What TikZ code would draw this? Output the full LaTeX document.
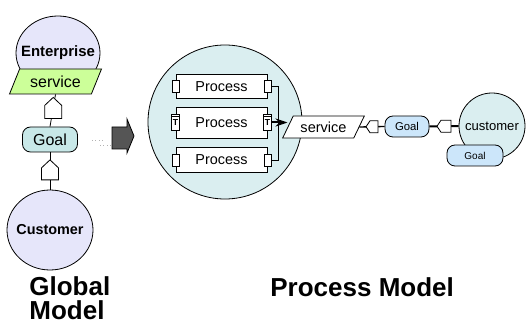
\documentclass[tikz,border=0pt]{standalone}
\usepackage{fontspec}
\setmainfont{Liberation Sans}
\usetikzlibrary{calc, shapes.geometric, arrows.meta}

\definecolor{entfill}{RGB}{230,230,250}
\definecolor{svcgreen}{RGB}{204,255,153}
\definecolor{goalteal}{RGB}{200,232,232}
\definecolor{procfill}{RGB}{218,238,240}
\definecolor{goalblue}{RGB}{204,230,250}
\definecolor{blockgrey}{RGB}{85,85,85}

\tikzset{
        actor/.style={draw, ellipse, fill=entfill, inner sep=0pt},
        svcbox/.style={draw, trapezium, trapezium stretches=true, inner sep=1pt},
        goalbox/.style={draw, rectangle, rounded corners=6pt, inner sep=0pt},
        procbox/.style={draw, fill=white, minimum width=68.25pt, inner sep=0pt, font=\fontsize{10.8}{12}\selectfont},
        port/.style={draw, fill=white, minimum width=5.25pt, minimum height=9pt, inner sep=0pt},
        tport/.style={draw, fill=white, minimum width=6pt, minimum height=12pt, inner sep=0pt, font=\fontsize{6.5}{7}\selectfont\bfseries},
        house/.style={draw, fill=white, line width=0.6pt}
}

\begin{document}
\begin{tikzpicture}[x=0.75pt, y=-0.75pt, line width=0.6pt]
        \useasboundingbox (0,0) rectangle (526,324);

        \node[actor, minimum width=63pt, minimum height=55.5pt, font=\fontsize{11.2}{12}\selectfont\bfseries] (ent) at (58,53) {\makebox[0pt]{Enterprise}};
        \node[svcbox, fill=svcgreen, trapezium left angle=62.5, trapezium right angle=117.5, minimum width=69pt, minimum height=18.75pt, font=\fontsize{12}{13}\selectfont] (entsvc) at (55.5,81.5) {service};
        \node[goalbox, fill=goalteal, minimum width=41.25pt, minimum height=18.75pt, font=\fontsize{12}{13}\selectfont] (glgoal) at (50,139.5) {Goal};
        \node[actor, minimum width=64.5pt, minimum height=60pt, font=\fontsize{10.8}{12}\selectfont\bfseries] (glcust) at (50,230) {\makebox[0pt]{Customer}};

        \draw (entsvc.south) -- (glgoal.north);
        \draw (glgoal.south) -- (glcust.north);
        \coordinate (h1) at ($(entsvc.south)!0.42!(glgoal.north)$);
        \coordinate (h2) at ($(glgoal.south)!0.47!(glcust.north)$);
        \draw[house] ($(h1)+(-8.5,10.5)$) -- ++(0,-13) -- ++(8.5,-8) -- ++(8.5,8) -- ++(0,13) -- cycle;
        \draw[house] ($(h2)+(-8.5,10)$) -- ++(0,-12) -- ++(8.5,-8) -- ++(8.5,8) -- ++(0,12) -- cycle;

        \draw[gray!60, dotted] (92,140) -- (105,140);
        \draw[gray!60, dotted] (100,145) -- (120,145);
        \draw[fill=blockgrey] (112,127) -- (127,127) -- (127,119) -- (134,136) -- (127,153) -- (127,149) -- (112,149) -- cycle;

        \node[draw, circle, fill=procfill, minimum size=115.5pt, inner sep=0pt] (pcirc) at (225,122) {};
        \node[procbox, minimum height=18pt] (proc1) at (221.5,86.5) {Process};
        \node[procbox, minimum height=23.25pt] (proc2) at (221.5,122.5) {Process};
        \node[procbox, minimum height=18.75pt] (proc3) at (221.5,160) {Process};
        \node[port] (p1w) at (proc1.west) {};
        \node[port] (p1e) at (proc1.east) {};
        \node[tport] (p2w) at (proc2.west) {\raisebox{-1pt}{T}};
        \node[tport] (p2e) at (proc2.east) {\raisebox{-1pt}{T}};
        \node[port] (p3w) at (proc3.west) {};
        \node[port] (p3e) at (proc3.east) {};
        \draw ($(p2w.north west)+(0,2.5)$) -- ($(p2w.north east)+(0,2.5)$);
        \draw ($(p2e.north west)+(0,2.5)$) -- ($(p2e.north east)+(0,2.5)$);
        \draw (p1e.east) -- ++(7,0) |- (p3e.east);

        \node[svcbox, fill=white, trapezium left angle=57.5, trapezium right angle=122.5, minimum width=61.5pt, minimum height=16.5pt, font=\fontsize{10.9}{12}\selectfont] (psvc) at (323.5,127) {service};
        \draw[line width=1.5pt, -{Stealth[length=9pt, width=6pt]}] (p2e.east) -- (p2e.east -| psvc.west);

        \node[goalbox, fill=goalblue, minimum width=33pt, minimum height=15.75pt, font=\fontsize{8.5}{9}\selectfont] (pgoal) at (407,126.5) {Goal};
        \node[draw, circle, fill=procfill, minimum size=49.5pt, inner sep=0pt, font=\fontsize{9.8}{11}\selectfont] (pcust) at (492,126) {customer};
        \node[goalbox, fill=goalblue, minimum width=42pt, minimum height=15.75pt, font=\fontsize{7.5}{8}\selectfont] (pcgoal) at (475,155.5) {Goal};

        \draw[line width=1pt] (psvc.east) -- (pgoal.west);
        \draw[line width=1.5pt] (pgoal.east) -- (pcust.west);
        \coordinate (h3) at ($(psvc.east)!0.5!(pgoal.west)$);
        \coordinate (h4) at ($(pgoal.east)!0.5!(pcust.west)$);
        \draw[house] ($(h3)+(6,-6)$) -- ++(-8,0) -- ++(-4,6) -- ++(4,6) -- ++(8,0) -- cycle;
        \draw[house] ($(h4)+(7,-6)$) -- ++(-10,0) -- ++(-4,6) -- ++(4,6) -- ++(10,0) -- cycle;

        \node[anchor=base west, inner sep=0pt, align=left, font=\fontsize{19.5}{18}\selectfont\bfseries] (glabel) at (29,320) {Global\\Model};
        \node[anchor=base west, inner sep=0pt, font=\fontsize{19.5}{18}\selectfont\bfseries] (plabel) at (270,297) {Process Model};
\end{tikzpicture}
\end{document}
